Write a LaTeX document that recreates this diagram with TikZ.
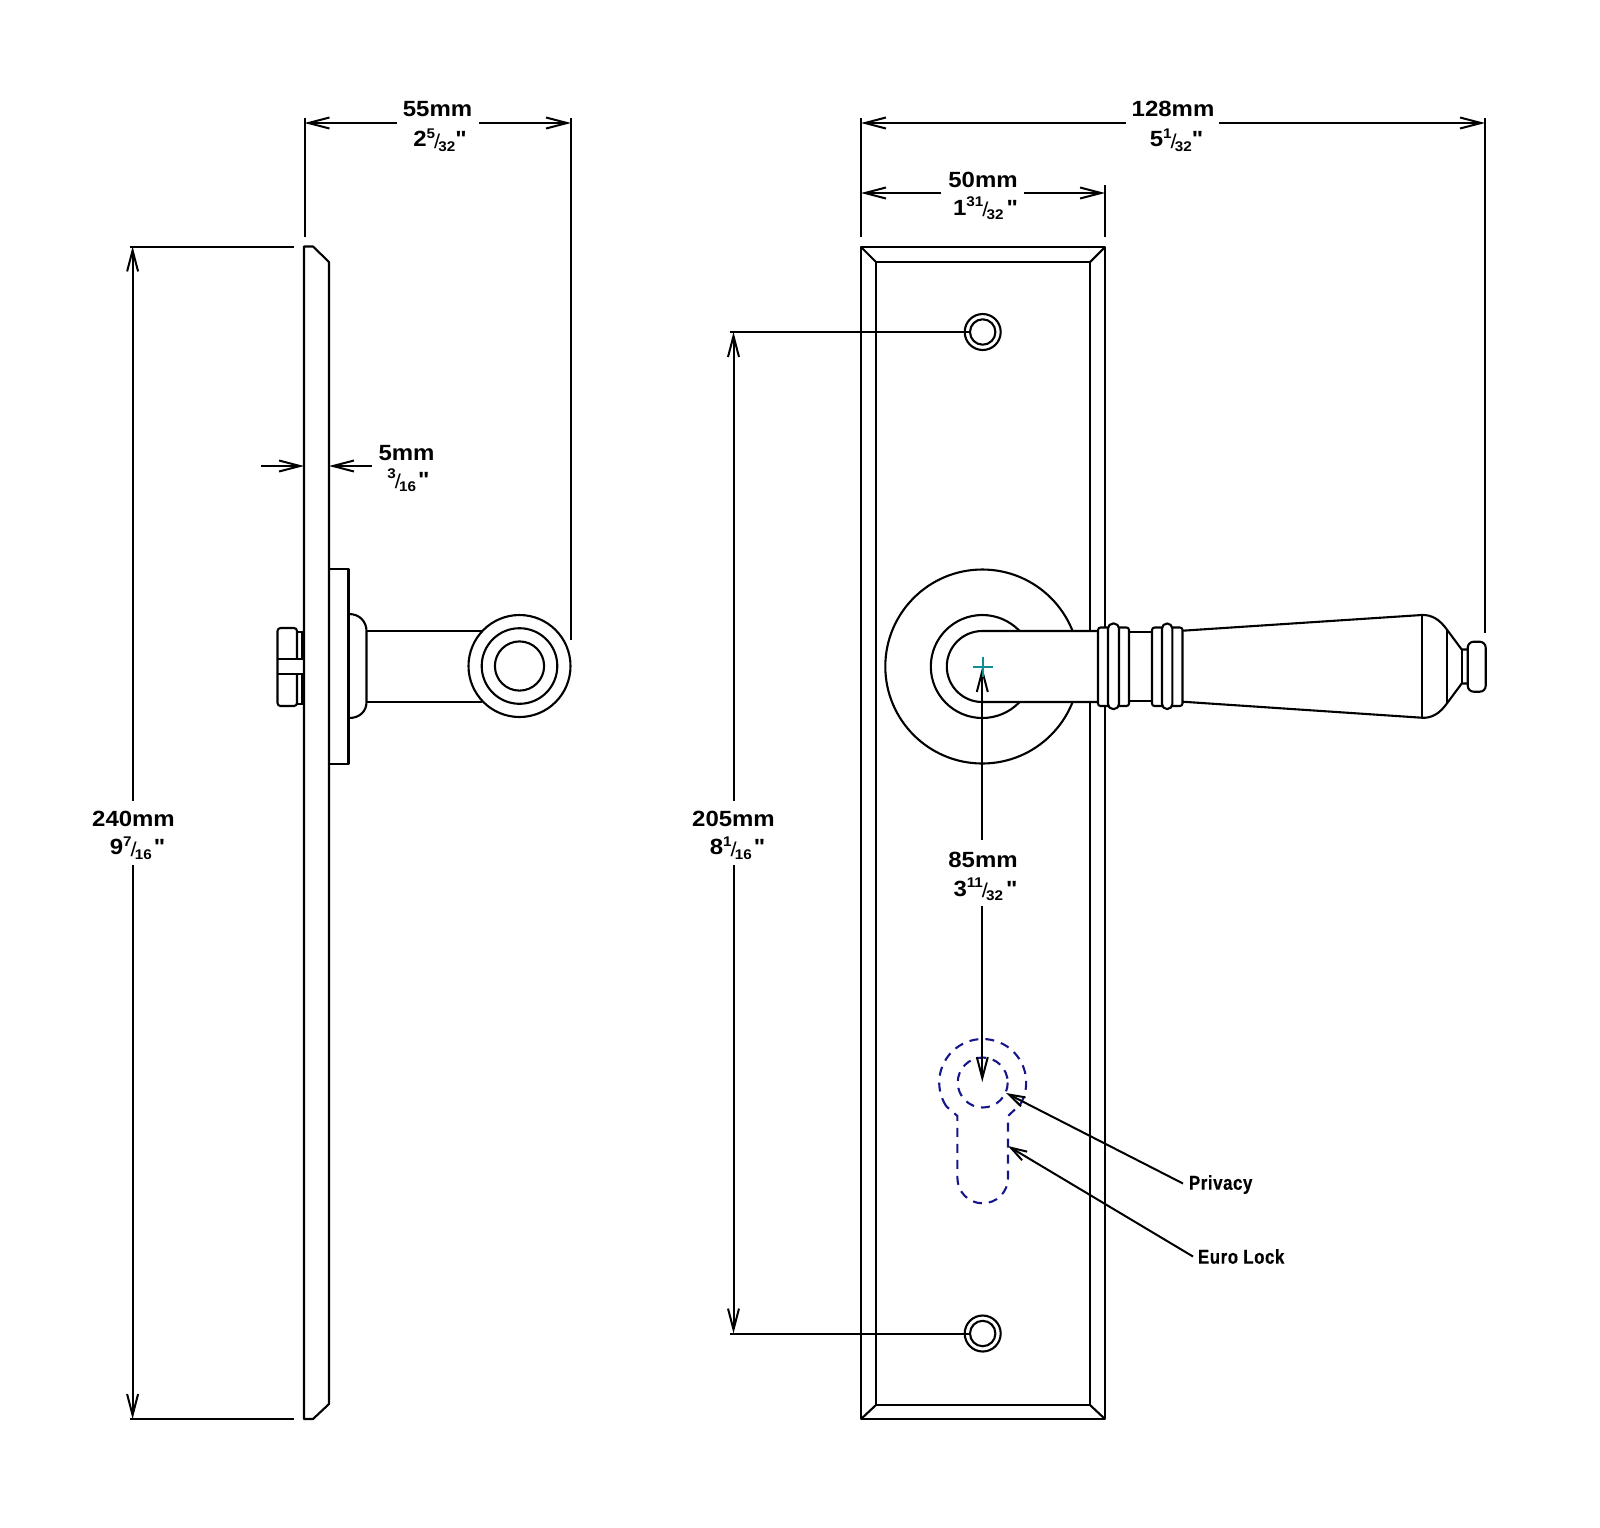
\documentclass[tikz,border=0pt]{standalone}
\usepackage{fontspec}
\usetikzlibrary{arrows.meta}
\newfontfamily\dimf[FakeStretch=1.09]{Liberation Sans}
\newfontfamily\labf[FakeStretch=0.84,FakeBold=0.5,LetterSpace=3]{Liberation Sans}
\definecolor{lockblue}{HTML}{16168C}
\definecolor{crossteal}{HTML}{0F8F8F}
\newcommand{\mmtxt}[1]{{\dimf\bfseries\fontsize{22}{22}\selectfont #1}}
\newcommand{\frpart}[2]{\raisebox{.40em}{\fontsize{14}{14}\selectfont #1}\kern-.05em\raisebox{-.06em}{\fontsize{20}{20}\mdseries\selectfont /}\kern-.08em\raisebox{-.2em}{\fontsize{14}{14}\selectfont #2}}
\newcommand{\frtxt}[4]{{\dimf\bfseries\fontsize{22}{22}\selectfont #1\frpart{#2}{#3}#4"}}
\tikzset{
  part/.style={line width=2.1pt,line join=round},
  dimline/.style={line width=2pt},
  dimarrow/.style={line width=2pt,-{Straight Barb[length=21pt,width=11pt,line width=2pt]}},
  callout/.style={line width=2pt,-{Straight Barb[length=16pt,width=10pt,line width=2pt]}},
  lockline/.style={line width=2.1pt,lockblue,dash pattern=on 9pt off 7pt},
  txt/.style={inner sep=0pt,outer sep=0pt,anchor=center},
  lab/.style={inner sep=0pt,outer sep=0pt,anchor=west,font=\labf\bfseries\fontsize{20}{20}\selectfont}
}
\begin{document}
\begin{tikzpicture}[x=1pt,y=-1pt]
\useasboundingbox (0,0) rectangle (1600,1527);
% ---------- side view
\draw[part] (304,1419)--(304,246.5)--(313,246.5)--(329,262)--(329,1404)--(313,1419)--cycle;
\draw[part] (329,569)--(348.5,569)--(348.5,764)--(329,764);
\draw[part] (349,614) .. controls (360,614) and (366.5,622) .. (366.5,631)--(366.5,702) .. controls (366.5,711) and (360,718) .. (349,718);
\draw[part] (366.5,631)--(482,631) (366.5,702)--(482,702);
\coordinate (sc) at (519.5,666);
\draw[part,fill=white] (sc) circle[radius=51];
\draw[part] (sc) circle[radius=37.8];
\draw[part] (sc) circle[radius=24.6];
\draw[part,rounded corners=3pt] (297,659)--(297,628)--(277.5,628)--(277.5,706)--(297,706)--(297,674);
\draw[part] (277.5,659)--(304,659) (277.5,674)--(304,674);
\draw[part] (297,632)--(302.5,632)--(302.5,659) (297,704)--(302.5,704)--(302.5,674);
% ---------- front plate
\draw[part] (861,247) rectangle (1105,1419);
\draw[part] (876,262) rectangle (1090,1405);
\draw[part] (861,247)--(876,262) (1105,247)--(1090,262) (861,1419)--(876,1405) (1105,1419)--(1090,1405);
% screws
\coordinate (s1) at (982.7,332);
\coordinate (s2) at (982.7,1333.5);
\draw[part] (s1) circle[radius=18] (s1) circle[radius=12.7];
\draw[part] (s2) circle[radius=18] (s2) circle[radius=12.7];
% rose
\coordinate (lc) at (982.3,666.5);
\draw[part] (lc) circle[radius=97];
\draw[part] (lc) circle[radius=51.5];
% lever arm
\draw[part,fill=white] (1098,631)--(982.3,631) arc[start angle=-90,end angle=-270,radius=35.5]--(1098,702);
% collars
\draw[part] (1129,632.3)--(1152,632.3) (1129,701)--(1152,701);
\draw[part,fill=white,rounded corners=2.5pt] (1098,627.5) rectangle (1129,706);
\draw[part,fill=white,rounded corners=5pt] (1108,623.5) rectangle (1119,709);
\draw[part,fill=white,rounded corners=2.5pt] (1152,627.5) rectangle (1182.5,706);
\draw[part,fill=white,rounded corners=5pt] (1162,623.5) rectangle (1172.3,709);
% handle
\draw[part] (1182.5,630.7)--(1421.7,615) .. controls (1432,614.5) and (1440,620) .. (1446.7,629.3)--(1461.7,649.5)--(1467.7,649.5) (1467.7,683.5)--(1461.7,683.5)--(1446.7,703.7) .. controls (1440,713) and (1432,718.5) .. (1421.7,717.7)--(1182.5,701.7);
\draw[part] (1421.7,615)--(1421.7,717.7) (1446.7,629.3)--(1446.7,703.7) (1461.7,649.5)--(1461.7,683.5);
\draw[part,rounded corners=6pt] (1467.7,641.7) rectangle (1485.7,691.7);
% ---------- euro lock outline
\coordinate (kc) at (982.7,1082.5);
\draw[lockline] (kc) circle[radius=25];
\draw[lockline] (kc) ++(147:43.5) arc[start angle=147,end angle=390,radius=43.5] -- (1008,1116)--(1008,1178) arc[start angle=0,end angle=180,radius=25.3]--(957.4,1116)--cycle;
% ---------- dimensions
\coordinate (e1a) at (304.5,118); \coordinate (e1b) at (304.5,237);
\coordinate (e2a) at (571,118);   \coordinate (e2b) at (571,640);
\draw[dimline] (e1a)--(e1b) (e2a)--(e2b);
\node[txt] (t55) at (437.5,109.5) {\mmtxt{55mm}};
\node[txt] (f55) at (440,140) {\frtxt{2}{5}{32}{}};
\coordinate (d55l) at (304.5,123); \coordinate (d55r) at (571,123);
\coordinate (g55l) at (397,123);   \coordinate (g55r) at (479,123);
\draw[dimarrow] (g55l)--(d55l); \draw[dimarrow] (g55r)--(d55r);
% 240
\coordinate (e3a) at (130,246.5); \coordinate (e3b) at (294,246.5);
\coordinate (e4a) at (130,1419); \coordinate (e4b) at (294,1419);
\draw[dimline] (e3a)--(e3b) (e4a)--(e4b);
\node[txt] (t240) at (133.5,818.5) {\mmtxt{240mm}};
\node[txt] (f240) at (137.5,848) {\frtxt{9}{7}{16}{\kern2pt}};
\coordinate (d240t) at (132.6,246.5); \coordinate (d240b) at (132.6,1419);
\coordinate (g240t) at (132.6,800.5); \coordinate (g240b) at (132.6,865);
\draw[dimarrow] (g240t)--(d240t); \draw[dimarrow] (g240b)--(d240b);
% 5mm
\coordinate (d5l) at (304,466); \coordinate (d5r) at (329,466);
\coordinate (g5l) at (261,466); \coordinate (g5r) at (372,466);
\draw[dimarrow] (g5l)--(d5l); \draw[dimarrow] (g5r)--(d5r);
\node[txt] (t5) at (406.5,453) {\mmtxt{5mm}};
\node[txt] (f5) at (408.5,480.5) {\dimf\bfseries\fontsize{22}{22}\selectfont\frpart{3}{16}\kern2pt"};
% 128
\coordinate (e5a) at (861,118); \coordinate (e5b) at (861,237);
\coordinate (e6a) at (1485,118); \coordinate (e6b) at (1485,633);
\coordinate (e7a) at (1105,185); \coordinate (e7b) at (1105,237);
\draw[dimline] (e5a)--(e5b) (e6a)--(e6b) (e7a)--(e7b);
\node[txt] (t128) at (1173,108.5) {\mmtxt{128mm}};
\node[txt] (f128) at (1176.5,140) {\frtxt{5}{1}{32}{}};
\coordinate (d128l) at (861,123); \coordinate (d128r) at (1485,123);
\coordinate (g128l) at (1125.5,123); \coordinate (g128r) at (1219,123);
\draw[dimarrow] (g128l)--(d128l); \draw[dimarrow] (g128r)--(d128r);
% 50
\node[txt] (t50) at (983,180) {\mmtxt{50mm}};
\node[txt] (f50) at (985.5,208.5) {\frtxt{1}{31}{32}{\kern3pt}};
\coordinate (d50l) at (861,193); \coordinate (d50r) at (1105,193);
\coordinate (g50l) at (941,193); \coordinate (g50r) at (1024,193);
\draw[dimarrow] (g50l)--(d50l); \draw[dimarrow] (g50r)--(d50r);
% 205
\coordinate (x205t) at (729.5,332); \coordinate (x205b) at (729.5,1333.5);
\coordinate (y205t) at (971,332); \coordinate (y205b) at (971,1333.5);
\draw[dimline] (x205t)--(y205t) (x205b)--(y205b);
\node[txt] (t205) at (733.5,818.5) {\mmtxt{205mm}};
\node[txt] (f205) at (737.5,848) {\frtxt{8}{1}{16}{\kern2pt}};
\coordinate (d205t) at (733.5,332); \coordinate (d205b) at (733.5,1333.5);
\coordinate (g205t) at (733.5,800.5); \coordinate (g205b) at (733.5,865);
\draw[dimarrow] (g205t)--(d205t); \draw[dimarrow] (g205b)--(d205b);
% 85
\node[txt] (t85) at (983,860) {\mmtxt{85mm}};
\node[txt] (f85) at (985.5,889.5) {\frtxt{3}{11}{32}{\kern3pt}};
\coordinate (d85t) at (982.3,667); \coordinate (d85b) at (982.3,1082);
\coordinate (g85t) at (982.3,840); \coordinate (g85b) at (982.3,906);
\draw[dimarrow] (g85t)--(d85t); \draw[dimarrow] (g85b)--(d85b);
% centre cross
\draw[line width=2pt,crossteal] (972.5,666.7)--(992.5,666.7) (982.5,656.7)--(982.5,676.7);
% callouts
\node[lab] (priv) at (1189,1184.5) {Privacy};
\node[lab] (euro) at (1198,1256.5) {Euro Lock};
\coordinate (pt1) at (1006,1093); \coordinate (pt2) at (1008,1146);
\draw[callout] (priv.west)++(-6,-1)--(pt1);
\draw[callout] (euro.west)++(-5,0)--(pt2);
\end{tikzpicture}
\end{document}
